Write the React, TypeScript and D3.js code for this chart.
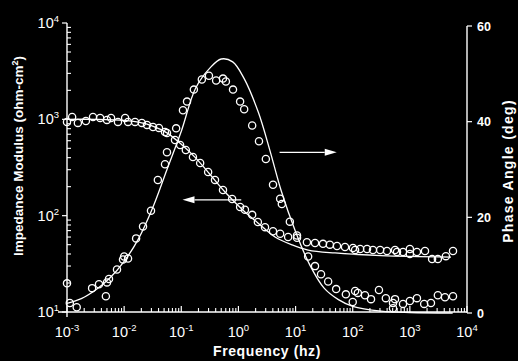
import * as d3 from "d3";

// measured impedance modulus (circles)
const impFreq = [
  0.001, 0.00123, 0.00155, 0.00214, 0.00285, 0.0038, 0.005, 0.0059, 0.0078, 0.0104,
  0.0117, 0.0155, 0.0204, 0.0251, 0.032, 0.0407, 0.0519, 0.0562, 0.0776, 0.0955,
  0.12, 0.16, 0.214, 0.295, 0.389, 0.537, 0.776, 1.07, 1.3, 1.74,
  2.19, 2.92, 4.03, 5.37, 7.41, 10.6, 15.8, 21.9, 30.2, 39.8,
  53.1, 73.3, 101, 110, 135, 178, 226, 302, 398, 550,
  596, 759, 1000, 1000, 1330, 1840, 2450, 3090, 4270, 5690,
];
const impValue = [
  940, 1060, 918, 962, 1060, 1035, 986, 1035, 940, 1035,
  940, 940, 918, 875, 834, 815, 740, 723, 611, 542,
  481, 407, 352, 284, 235, 185, 149, 123, 115, 102,
  86, 76, 69, 65, 60, 59, 53, 52, 51, 50,
  48.4, 47.3, 46.2, 44, 45, 45, 44, 44, 43, 44,
  42, 42, 45, 40, 42, 43, 35.5, 35.5, 38, 43,
];

// measured phase angle (circles)
const phaseFreq = [
  0.001, 0.00112, 0.00148, 0.00275, 0.00363, 0.00479, 0.00501, 0.00543, 0.0075, 0.00955,
  0.01, 0.0117, 0.0162, 0.0214, 0.0295, 0.0389, 0.0519, 0.0562, 0.0813, 0.107,
  0.126, 0.166, 0.229, 0.305, 0.407, 0.537, 0.603, 0.804, 1.07, 1.26,
  1.74, 2.29, 3.02, 4.03, 5.37, 5.75, 7.94, 10.6, 16.6, 21.9,
  27.9, 37.2, 51.3, 75.9, 100, 110, 123, 164, 209, 288,
  380, 507, 507, 550, 759, 1000, 1330, 1780, 2340, 3090,
  4120, 5690,
];
const phaseValue = [
  6.2, 2.1, 1.2, 5.2, 6.0, 3.5, 6.4, 7.1, 9.1, 11.2,
  11.8, 11.4, 15.6, 18.1, 21.4, 27.8, 31.1, 33.6, 38.6, 42.4,
  44.2, 46.7, 48.8, 49.6, 48.6, 49.0, 48.4, 46.7, 44.2, 42.6,
  39.2, 35.9, 32.2, 26.8, 23.9, 22.8, 19.1, 16.2, 11.8, 9.8,
  8.1, 6.6, 5.0, 3.9, 2.3, 4.6, 4.2, 3.7, 2.9, 4.8,
  3.1, 1.0, 2.1, 2.9, 1.9, 2.5, 3.1, 1.9, 2.1, 3.7,
  3.3, 3.5,
];

// fitted curves
const impFitFreq = [0.001, 0.00316, 0.01, 0.0178, 0.0316, 0.0562, 0.1, 0.178, 0.316, 0.582, 1.3, 2.19, 4.37, 8.71, 16.6, 49, 316, 5250];
const impFitValue = [1000, 1000, 977, 933, 851, 724, 550, 398, 269, 176, 109, 84, 60, 49.7, 44, 41, 38.5, 37.2];

const phaseFitFreq = [0.001, 0.00178, 0.00316, 0.00562, 0.01, 0.0178, 0.0316, 0.0562, 0.1, 0.178, 0.316, 0.5, 0.794, 1.26, 2.24, 3.55, 5.62, 10, 17.8, 31.6, 56.2, 100, 316, 1000, 5620];
const phaseFitValue = [2.0, 3.0, 4.8, 7.3, 10.8, 15.5, 22.0, 30.0, 38.0, 47.0, 51.2, 53.1, 52.5, 49.0, 41.9, 34.0, 25.5, 17.0, 10.0, 5.2, 2.8, 1.4, 0.4, 0.1, 0];

// axes
const freqDecades = [-3, -2, -1, 0, 1, 2, 3, 4];
const impDecades = [1, 2, 3, 4];
const phaseTicks = [0, 20, 40, 60];

// arrows: [from freq, to freq, value]
const phaseArrow = [5.25, 52.5, 33.6];
const impArrow = [1.12, 0.105, 146];

const W = 518;
const H = 361;
const FONT = "'Liberation Sans', Arial, sans-serif";

export default function App() {
  const x = d3.scaleLog().domain([1e-3, 1e4]).range([67, 467]);
  const yZ = d3.scaleLog().domain([10, 1e4]).range([312, 23]);
  const yP = d3.scaleLinear().domain([0, 60]).range([313, 26]);

  const impFit = d3
    .line<number>()
    .x((_, i) => x(impFitFreq[i]))
    .y((d) => yZ(d))
    .curve(d3.curveCatmullRom)(impFitValue);
  const phaseFit = d3
    .line<number>()
    .x((_, i) => x(phaseFitFreq[i]))
    .y((d) => yP(d))
    .curve(d3.curveCatmullRom)(phaseFitValue);

  const freqMinor: number[] = [];
  freqDecades.slice(0, -1).forEach((e) => {
    for (let k = 2; k <= 9; k++) freqMinor.push(k * Math.pow(10, e));
  });
  const impMinor: number[] = [];
  impDecades.slice(0, -1).forEach((e) => {
    for (let k = 2; k <= 9; k++) impMinor.push(k * Math.pow(10, e));
  });

  const arrow = (x1: number, x2: number, y: number) => {
    const dir = x2 > x1 ? 1 : -1;
    const hl = 12;
    return (
      <g>
        <line x1={x1} x2={x2 - dir * hl} y1={y} y2={y} stroke="white" strokeWidth={1.3} />
        <path d={`M${x2},${y}L${x2 - dir * hl},${y - 3.5}L${x2 - dir * hl},${y + 3.5}Z`} fill="white" />
      </g>
    );
  };

  const x0 = x(1e-3);
  const x1 = x(1e4);
  const yb = yZ(10);

  return (
    <svg
      width={W}
      height={H}
      style={{ position: "absolute", left: 0, top: 0 }}
      fontFamily={FONT}
    >
      <rect width={W} height={H} fill="black" />

      {/* axes lines */}
      <line x1={x0 - 9} x2={x1} y1={yb} y2={yb} stroke="white" strokeWidth={1.4} />
      <line x1={x0} x2={x0} y1={yZ(1e4)} y2={yb + 5} stroke="white" strokeWidth={1.4} />
      <line x1={x1} x2={x1} y1={yP(60)} y2={yP(0)} stroke="white" strokeWidth={1.4} />

      {/* bottom ticks */}
      {freqMinor.map((f) => (
        <line key={"fm" + f} x1={x(f)} x2={x(f)} y1={yb} y2={yb - 4} stroke="white" strokeWidth={1.1} />
      ))}
      {freqDecades.map((e) => (
        <g key={"fd" + e}>
          <line x1={x(Math.pow(10, e))} x2={x(Math.pow(10, e))} y1={yb} y2={yb - 6} stroke="white" strokeWidth={1.2} />
          <text x={x(Math.pow(10, e))} y={337} textAnchor="middle" fill="white" fontSize={14.5}>
            <tspan>10</tspan>
            <tspan dy={-6} fontSize={9.5}>{e}</tspan>
          </text>
        </g>
      ))}

      {/* left ticks */}
      {impMinor.map((v) => (
        <line key={"im" + v} x1={x0} x2={x0 + 4} y1={yZ(v)} y2={yZ(v)} stroke="white" strokeWidth={1.1} />
      ))}
      {impDecades.map((e) => (
        <g key={"id" + e}>
          <line x1={x0 - 5} x2={x0} y1={yZ(Math.pow(10, e))} y2={yZ(Math.pow(10, e))} stroke="white" strokeWidth={1.2} />
          <text x={59} y={yZ(Math.pow(10, e)) + 5} textAnchor="end" fill="white" fontSize={14.5}>
            <tspan>10</tspan>
            <tspan dy={-6} fontSize={9.5}>{e}</tspan>
          </text>
        </g>
      ))}

      {/* right ticks */}
      {phaseTicks.map((p) => (
        <g key={"p" + p}>
          <line x1={x1} x2={x1 + 5} y1={yP(p)} y2={yP(p)} stroke="white" strokeWidth={1.2} />
          <text x={477} y={yP(p) + 4.5} fill="white" fontSize={12.5} fontWeight="bold">
            {p}
          </text>
        </g>
      ))}

      {/* titles */}
      <text x={267} y={356} textAnchor="middle" fill="white" fontSize={14} fontWeight="bold" letterSpacing={0.6}>
        Frequency (hz)
      </text>
      <text
        transform="translate(23,156) rotate(-90)"
        textAnchor="middle"
        fill="white"
        fontSize={13.5}
        fontWeight="bold"
      >
        Impedance Modulus (ohm-cm<tspan dy={-5} fontSize={9}>2</tspan>
        <tspan dy={5}>)</tspan>
      </text>
      <text
        transform="translate(513,171) rotate(-90)"
        textAnchor="middle"
        fill="white"
        fontSize={14}
        fontWeight="bold"
        letterSpacing={1.3}
      >
        Phase Angle (deg)
      </text>

      {/* fitted curves */}
      <path d={impFit ?? ""} fill="none" stroke="white" strokeWidth={1.3} />
      <path d={phaseFit ?? ""} fill="none" stroke="white" strokeWidth={1.3} />

      {/* data */}
      {impFreq.map((f, i) => (
        <circle key={"ic" + i} cx={x(f)} cy={yZ(impValue[i])} r={3.6} fill="none" stroke="white" strokeWidth={1.3} />
      ))}
      {phaseFreq.map((f, i) => (
        <circle key={"pc" + i} cx={x(f)} cy={yP(phaseValue[i])} r={3.6} fill="none" stroke="white" strokeWidth={1.3} />
      ))}

      {/* arrows */}
      {arrow(x(phaseArrow[0]), x(phaseArrow[1]), yP(phaseArrow[2]))}
      {arrow(x(impArrow[0]), x(impArrow[1]), yZ(impArrow[2]))}
    </svg>
  );
}
